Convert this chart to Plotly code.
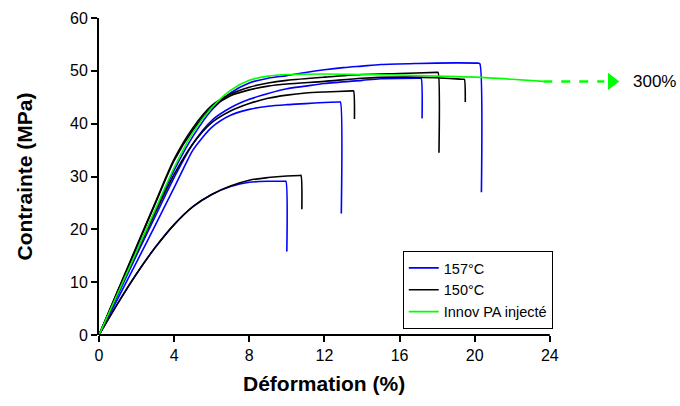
import plotly.graph_objects as go

# ---- data (strain %, stress MPa) ----
blue_a_x = [0, 1, 2, 3, 4, 5, 6, 7, 8, 9, 10, 11, 12, 13, 14, 15, 17, 19, 20.2, 20.27, 20.36]
blue_a_y = [0, 7.9, 15.8, 23.6, 31.2, 37.6, 42.6, 45.8, 47.7, 48.6, 49.1, 49.7, 50.2, 50.6, 50.9, 51.2, 51.4, 51.5, 51.45, 51.4, 27.0]

blue_b_x = [0, 1, 2, 3, 4, 5, 6, 7, 8, 9, 10, 11, 12, 14, 15, 17.1, 17.15, 17.2]
blue_b_y = [0, 7.6, 15.1, 22.5, 29.8, 36.2, 40.6, 43.0, 44.6, 45.7, 46.6, 47.1, 47.6, 48.2, 48.5, 48.6, 48.6, 41.0]

blue_c_x = [0, 1, 2, 3, 4, 4.73, 5, 6, 7, 8, 9, 10, 11, 12, 12.8, 12.85, 12.9]
blue_c_y = [0, 6.9, 13.8, 20.8, 27.9, 33.2, 35.0, 39.3, 41.6, 42.7, 43.3, 43.6, 43.8, 44.0, 44.1, 44.1, 23.0]

blue_d_x = [0, 1, 2, 3, 4, 5, 6, 7, 8, 9, 9.9, 9.95, 10.0]
blue_d_y = [0, 6.0, 11.6, 16.6, 20.9, 24.3, 26.6, 28.1, 28.9, 29.1, 29.1, 29.1, 15.8]

black_a_x = [0, 1, 2, 3, 4, 5, 6, 7, 8, 9, 10, 12, 14, 16, 18.0, 18.05, 18.1]
black_a_y = [0, 8.4, 16.8, 25.1, 33.3, 39.2, 43.4, 45.6, 46.9, 47.7, 48.2, 48.8, 49.3, 49.5, 49.7, 49.7, 34.5]

black_b_x = [0, 1, 2, 3, 4, 5, 6, 7, 8, 9, 10, 12, 14, 16, 18, 19.4, 19.45, 19.5]
black_b_y = [0, 8.3, 16.6, 24.9, 33.0, 38.8, 43.0, 45.3, 46.4, 47.1, 47.5, 48.0, 48.6, 48.8, 48.7, 48.4, 48.4, 44.1]

black_c_x = [0, 1, 2, 3, 4, 5, 6, 7, 8, 9, 10, 11, 12, 13.5, 13.55, 13.6]
black_c_y = [0, 7.9, 15.6, 23.2, 30.4, 36.2, 40.2, 42.4, 43.8, 44.8, 45.4, 45.8, 46.0, 46.2, 46.2, 40.9]

black_d_x = [0, 1, 2, 3, 4, 5, 6, 7, 8, 9, 10, 10.7, 10.75, 10.8]
black_d_y = [0, 6.0, 11.6, 16.6, 20.9, 24.3, 26.6, 28.2, 29.3, 29.8, 30.1, 30.2, 30.2, 23.8]

green_x = [0, 1, 2, 3, 4, 5, 6, 7, 8, 9, 10, 12, 14, 16, 18, 20, 22, 23.65]
green_y = [0, 7.9, 15.8, 23.8, 31.7, 38.3, 43.0, 46.3, 48.2, 49.0, 49.3, 49.4, 49.3, 49.2, 49.0, 48.8, 48.4, 48.0]

ext_x = [23.65, 26.9]
ext_y = [48.0, 48.0]
arrow_x = [27.3]
arrow_y = [48.0]
ext_label = "300%"
ext_label_x = 28.3

x_ticks = [0, 4, 8, 12, 16, 20, 24]
y_ticks = [0, 10, 20, 30, 40, 50, 60]

BLUE = "#0000FF"
BLACK = "#000000"
GREEN = "#00FF00"
FONT = "Liberation Sans, Arial, sans-serif"

fig = go.Figure()

groups = [
    ("157°C", BLUE, [(blue_a_x, blue_a_y), (blue_b_x, blue_b_y), (blue_c_x, blue_c_y), (blue_d_x, blue_d_y)]),
    ("150°C", BLACK, [(black_a_x, black_a_y), (black_b_x, black_b_y), (black_c_x, black_c_y), (black_d_x, black_d_y)]),
    ("Innov PA injecté", GREEN, [(green_x, green_y)]),
]
for name, color, curves in groups:
    for i, (xs, ys) in enumerate(curves):
        fig.add_trace(go.Scatter(
            x=xs, y=ys, mode="lines", name=name, legendgroup=name,
            showlegend=(i == 0),
            line=dict(color=color, width=1.6, shape="spline", smoothing=0.8),
            hoverinfo="skip"))

fig.add_trace(go.Scatter(x=ext_x, y=ext_y, mode="lines", showlegend=False,
                         line=dict(color=GREEN, width=2.5, dash="dash"), hoverinfo="skip"))
fig.add_trace(go.Scatter(x=arrow_x, y=arrow_y, mode="markers", showlegend=False,
                         marker=dict(symbol="triangle-right", size=15, color=GREEN),
                         cliponaxis=False, hoverinfo="skip"))
fig.add_annotation(x=ext_label_x, y=ext_y[-1], xref="x", yref="y", text=ext_label,
                   showarrow=False, xanchor="left", yanchor="middle",
                   font=dict(family=FONT, size=17, color="black"))

x_max = 30.4
# x axis baseline only across the labelled range
fig.add_shape(type="line", xref="x", yref="paper", x0=0, x1=x_ticks[-1], y0=0, y1=0,
              line=dict(color="black", width=2))

fig.add_annotation(x=x_ticks[-1] / 2, y=0, xref="x", yref="paper", yshift=-48,
                   yanchor="middle", xanchor="center",
                   text="<b>Déformation (%)</b>", showarrow=False,
                   font=dict(family=FONT, size=21, color="black"))
fig.add_annotation(x=0, y=0.5, xref="paper", yref="paper", xshift=-75,
                   xanchor="center", yanchor="middle",
                   text="<b>Contrainte (MPa)</b>", textangle=-90, showarrow=False,
                   font=dict(family=FONT, size=21, color="black"))

fig.update_layout(
    width=680, height=406,
    margin=dict(l=99, r=10, t=18, b=71),
    paper_bgcolor="white", plot_bgcolor="white",
    font=dict(family=FONT, size=16, color="black"),
    showlegend=True,
    legend=dict(x=0.532, y=0.265, xanchor="left", yanchor="top",
                bordercolor="black", borderwidth=1, bgcolor="white",
                font=dict(family=FONT, size=14.5, color="black"),
                itemwidth=30, tracegroupgap=0),
    xaxis=dict(range=[0, x_max], tickmode="array", tickvals=x_ticks,
               ticktext=[str(v) for v in x_ticks],
               showline=False, showgrid=False, zeroline=False,
               ticks="outside", ticklen=6, tickwidth=1.5, tickcolor="black",
               tickfont=dict(family=FONT, size=16)),
    yaxis=dict(range=[0, 60], tickmode="array", tickvals=y_ticks,
               showline=True, linecolor="black", linewidth=2,
               showgrid=False, zeroline=False,
               ticks="outside", ticklen=6, tickwidth=1.5, tickcolor="black",
               tickfont=dict(family=FONT, size=16)),
)

fig.write_html("out.html", config={"displayModeBar": False},
               post_script="document.body.style.margin='0';")
